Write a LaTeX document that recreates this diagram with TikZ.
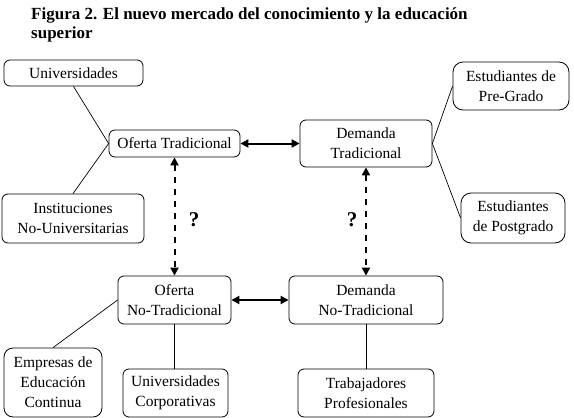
\documentclass[tikz,border=0pt]{standalone}
\usepackage{fontspec}
\setmainfont{Liberation Serif}
\usetikzlibrary{arrows.meta}

\tikzset{
  box/.style={draw, rounded corners=6pt, line width=0.8pt, align=center, inner sep=0pt,
    font=\fontsize{15.5}{20}\selectfont},
  link/.style={line width=0.7pt},
  bigarrow/.style={line width=2pt, <->},
  dasharrow/.style={line width=2pt, <->, dash pattern=on 6pt off 6pt},
  quest/.style={font=\fontsize{21}{21}\selectfont\bfseries},
}

\begin{document}
\begin{tikzpicture}[x=1pt, y=-1pt, >={Triangle[length=8pt,width=8pt]}]

    \useasboundingbox (0,0) rectangle (574,418);

    % title
    \node[anchor=north west, align=left, inner sep=0pt,
      font=\fontsize{17}{19}\selectfont\bfseries] (title) at (31,7)
      {Figura 2. El nuevo mercado del conocimiento y la educación\\superior};

    % oferta / demanda
    \node[box, minimum width=131pt, minimum height=27pt] (ofertaT) at (174.5,143.5) {Oferta Tradicional};
    \node[box, minimum width=132pt, minimum height=47pt] (demandaT) at (366,143.5) {Demanda\\Tradicional};
    \node[box, minimum width=113pt, minimum height=48pt] (ofertaN) at (174.5,300) {Oferta\\No-Tradicional};
    \node[box, minimum width=154pt, minimum height=48pt] (demandaN) at (366,300) {Demanda\\No-Tradicional};

    % proveedores y clientes
    \node[box, minimum width=139pt, minimum height=26pt] (univ) at (73.5,73) {Universidades};
    \node[box, minimum width=142pt, minimum height=49pt] (inst) at (73,218.5) {Instituciones\\No-Universitarias};
    \node[box, rounded corners=10pt, minimum width=116pt, minimum height=48pt] (pregrado) at (511,86) {Estudiantes de\\Pre-Grado};
    \node[box, rounded corners=10pt, minimum width=104pt, minimum height=50pt] (postgrado) at (513,218) {Estudiantes\\de Postgrado};
    \node[box, rounded corners=9pt, minimum width=98pt, minimum height=69pt] (empresas) at (53,382.5) {Empresas de\\Educación\\Continua};
    \node[box, minimum width=105pt, minimum height=48pt] (corp) at (175.5,393) {Universidades\\Corporativas};
    \node[box, minimum width=136pt, minimum height=48pt] (trab) at (366,393) {Trabajadores\\Profesionales};

    % lineas
    \draw[link] (univ.south) -- (ofertaT.west) -- (inst.north);
    \draw[link] (pregrado.west) -- (demandaT.east) -- (postgrado.west);
    \draw[link] (empresas.north) -- (ofertaN.west);
    \draw[link] (ofertaN.south) -- (ofertaN.south |- corp.north);
    \draw[link] (demandaN.south) -- (trab.north);

    % flechas
    \draw[bigarrow] (ofertaT.east) -- (demandaT.west);
    \draw[bigarrow] (ofertaN.east) -- (demandaN.west);
    \draw[dasharrow] (ofertaT.south) -- (ofertaN.north);
    \draw[dasharrow] (demandaT.south) -- (demandaN.north);

    \node[quest] (q1) at (194,220) {?};
    \node[quest] (q2) at (352,220) {?};

\end{tikzpicture}
\end{document}
